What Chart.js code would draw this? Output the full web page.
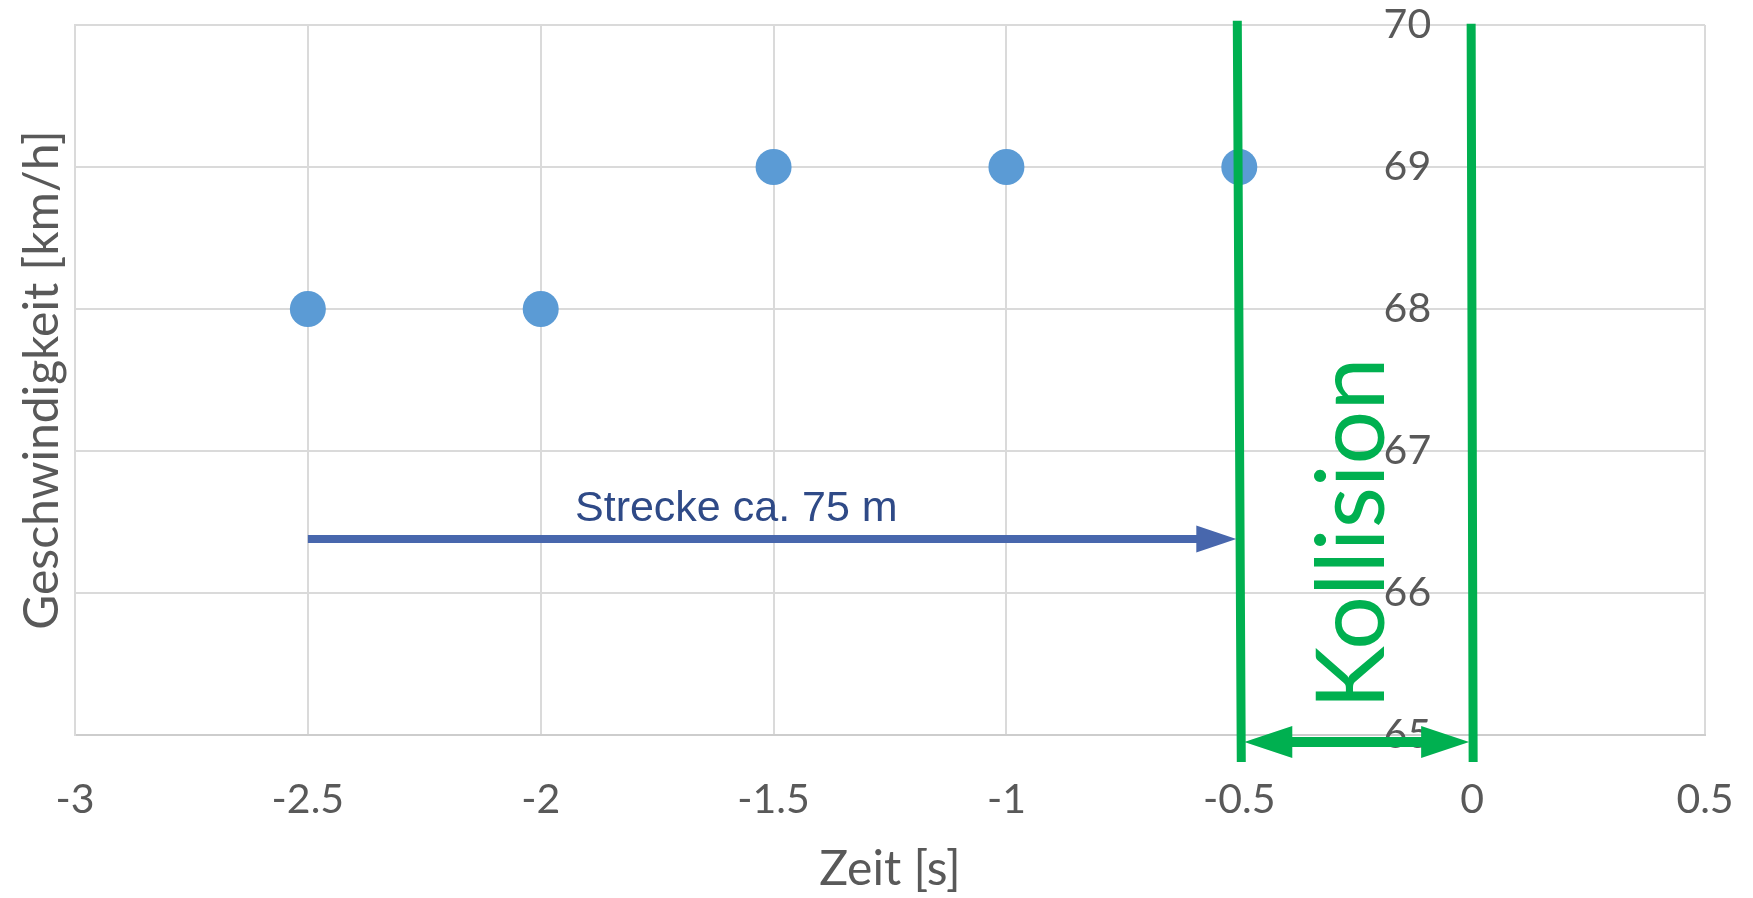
<!DOCTYPE html>
<html lang="de">
<head>
<meta charset="utf-8">
<title>Geschwindigkeit vor der Kollision</title>
<script src="https://cdn.jsdelivr.net/npm/chart.js@4.4.1/dist/chart.umd.min.js"></script>
<style>
  html, body { margin: 0; padding: 0; background: #ffffff; }
  canvas { display: block; }
</style>
</head>
<body>
<canvas id="chart" width="1753" height="898"></canvas>
<script>
// Measured speed samples before the collision
const timeS = [-2.5, -2, -1.5, -1, -0.5];
const speedKmh = [68, 68, 69, 69, 69];

// Axis ticks
const xTicks = [-3, -2.5, -2, -1.5, -1, -0.5, 0, 0.5];
const yTicks = [65, 66, 67, 68, 69, 70];

// Annotated ranges (in axis units)
const collisionWindow = [-0.5, 0];
const distanceFrom = -2.5;
const distanceTo = -0.5;
const distanceLevel = 66.38;
const distanceText = 'Strecke ca. 75 m';
const collisionText = 'Kollision';

const TEXT = '#595959';
const GRID = '#DADADA';
const POINT = '#5B9BD5';
const GREEN = '#00B050';
const ARROW_BLUE = '#4867AD';
const LABEL_BLUE = '#2F4A87';
const FONT = 'Lato, "Open Sans", sans-serif';

const fixedTicks = values => scale => { scale.ticks = values.map(v => ({ value: v })); };

// Distance arrow, collision markers and their labels
const overlay = {
  id: 'overlay',
  afterDatasetsDraw(chart) {
    const { ctx, scales: { x, y } } = chart;
    ctx.save();

    // blue distance arrow
    const ay = y.getPixelForValue(distanceLevel);
    const ax0 = x.getPixelForValue(distanceFrom);
    const ax1 = x.getPixelForValue(distanceTo) - 3;
    ctx.strokeStyle = ARROW_BLUE;
    ctx.fillStyle = ARROW_BLUE;
    ctx.lineWidth = 8;
    ctx.lineCap = 'butt';
    ctx.beginPath();
    ctx.moveTo(ax0, ay);
    ctx.lineTo(ax1 - 36, ay);
    ctx.stroke();
    ctx.beginPath();
    ctx.moveTo(ax1, ay);
    ctx.lineTo(ax1 - 40, ay - 13.5);
    ctx.lineTo(ax1 - 40, ay + 13.5);
    ctx.closePath();
    ctx.fill();

    ctx.font = '43px "Liberation Sans", Arial, sans-serif';
    ctx.fillStyle = LABEL_BLUE;
    ctx.textAlign = 'center';
    ctx.textBaseline = 'alphabetic';
    ctx.fillText(distanceText, x.getPixelForValue(-1.58), y.getPixelForValue(66.51));

    // green collision window markers
    const gTop = y.getPixelForValue(70.03);
    const gBottom = y.getPixelForValue(64.81);
    const gx0 = x.getPixelForValue(collisionWindow[0]);
    const gx1 = x.getPixelForValue(collisionWindow[1]);
    ctx.strokeStyle = GREEN;
    ctx.fillStyle = GREEN;
    ctx.lineWidth = 9;
    ctx.beginPath();
    ctx.moveTo(gx0 - 2, gTop);
    ctx.lineTo(gx0 + 2, gBottom);
    ctx.moveTo(gx1 - 1, gTop + 3);
    ctx.lineTo(gx1 + 1, gBottom);
    ctx.stroke();

    // double arrow between the markers
    const dy = y.getPixelForValue(64.95);
    const left = gx0 + 5;
    const right = gx1 - 3;
    const head = 48;
    ctx.lineWidth = 10;
    ctx.beginPath();
    ctx.moveTo(left + head - 4, dy);
    ctx.lineTo(right - head + 4, dy);
    ctx.stroke();
    ctx.beginPath();
    ctx.moveTo(left, dy);
    ctx.lineTo(left + head, dy - 16);
    ctx.lineTo(left + head, dy + 16);
    ctx.closePath();
    ctx.moveTo(right, dy);
    ctx.lineTo(right - head, dy - 16);
    ctx.lineTo(right - head, dy + 16);
    ctx.closePath();
    ctx.fill();

    // rotated collision label
    ctx.translate(x.getPixelForValue(-0.19), y.getPixelForValue(66.42));
    ctx.rotate(-Math.PI / 2);
    ctx.font = '95px ' + FONT;
    ctx.fillStyle = GREEN;
    ctx.textAlign = 'center';
    ctx.textBaseline = 'alphabetic';
    ctx.fillText(collisionText, 0, 0);

    ctx.restore();
  }
};

new Chart(document.getElementById('chart'), {
  type: 'scatter',
  data: {
    datasets: [{
      label: 'Geschwindigkeit',
      data: timeS.map((t, i) => ({ x: t, y: speedKmh[i] })),
      backgroundColor: POINT,
      borderColor: POINT,
      borderWidth: 0,
      pointRadius: 18,
      pointHoverRadius: 18
    }]
  },
  options: {
    responsive: false,
    animation: false,
    events: [],
    layout: { autoPadding: false, padding: { left: 0, right: 48, top: 25, bottom: 0 } },
    plugins: { legend: { display: false }, tooltip: { enabled: false } },
    scales: {
      x: {
        type: 'linear',
        min: -3,
        max: 0.5,
        afterBuildTicks: fixedTicks(xTicks),
        afterFit: s => {
          s.height = 163;
          s.paddingLeft = 0;
          s.paddingRight = 0;
        },
        grid: { color: GRID, lineWidth: 2, drawTicks: false },
        border: { color: '#CDCDCD', width: 2 },
        ticks: {
          font: { family: FONT, size: 41 },
          color: TEXT,
          padding: 40,
          maxRotation: 0,
          callback: v => String(v)
        },
        title: {
          display: true,
          text: 'Zeit [s]',
          font: { family: FONT, size: 48 },
          color: TEXT,
          padding: { top: 0, bottom: 0 }
        }
      },
      y: {
        type: 'linear',
        position: 'left',
        min: 65,
        max: 70,
        afterBuildTicks: fixedTicks(yTicks),
        afterFit: s => { s.width = 75; },
        grid: { color: GRID, lineWidth: 2, drawTicks: false },
        border: { color: GRID, width: 2 },
        ticks: { display: false },
        title: {
          display: true,
          text: 'Geschwindigkeit [km/h]',
          font: { family: FONT, size: 48 },
          color: TEXT,
          padding: { top: 14, bottom: 0 }
        }
      },
      yLabels: {
        type: 'linear',
        axis: 'y',
        position: { x: -0.088 },
        min: 65,
        max: 70,
        afterBuildTicks: fixedTicks(yTicks),
        afterFit: s => {
          s.width = 0;
          s.paddingTop = 0;
          s.paddingBottom = 0;
          s.paddingLeft = 0;
          s.paddingRight = 0;
        },
        grid: { display: false },
        border: { display: false },
        ticks: {
          font: { family: FONT, size: 41 },
          color: TEXT,
          padding: 0,
          callback: v => String(v)
        }
      }
    }
  },
  plugins: [overlay]
});
</script>
</body>
</html>
